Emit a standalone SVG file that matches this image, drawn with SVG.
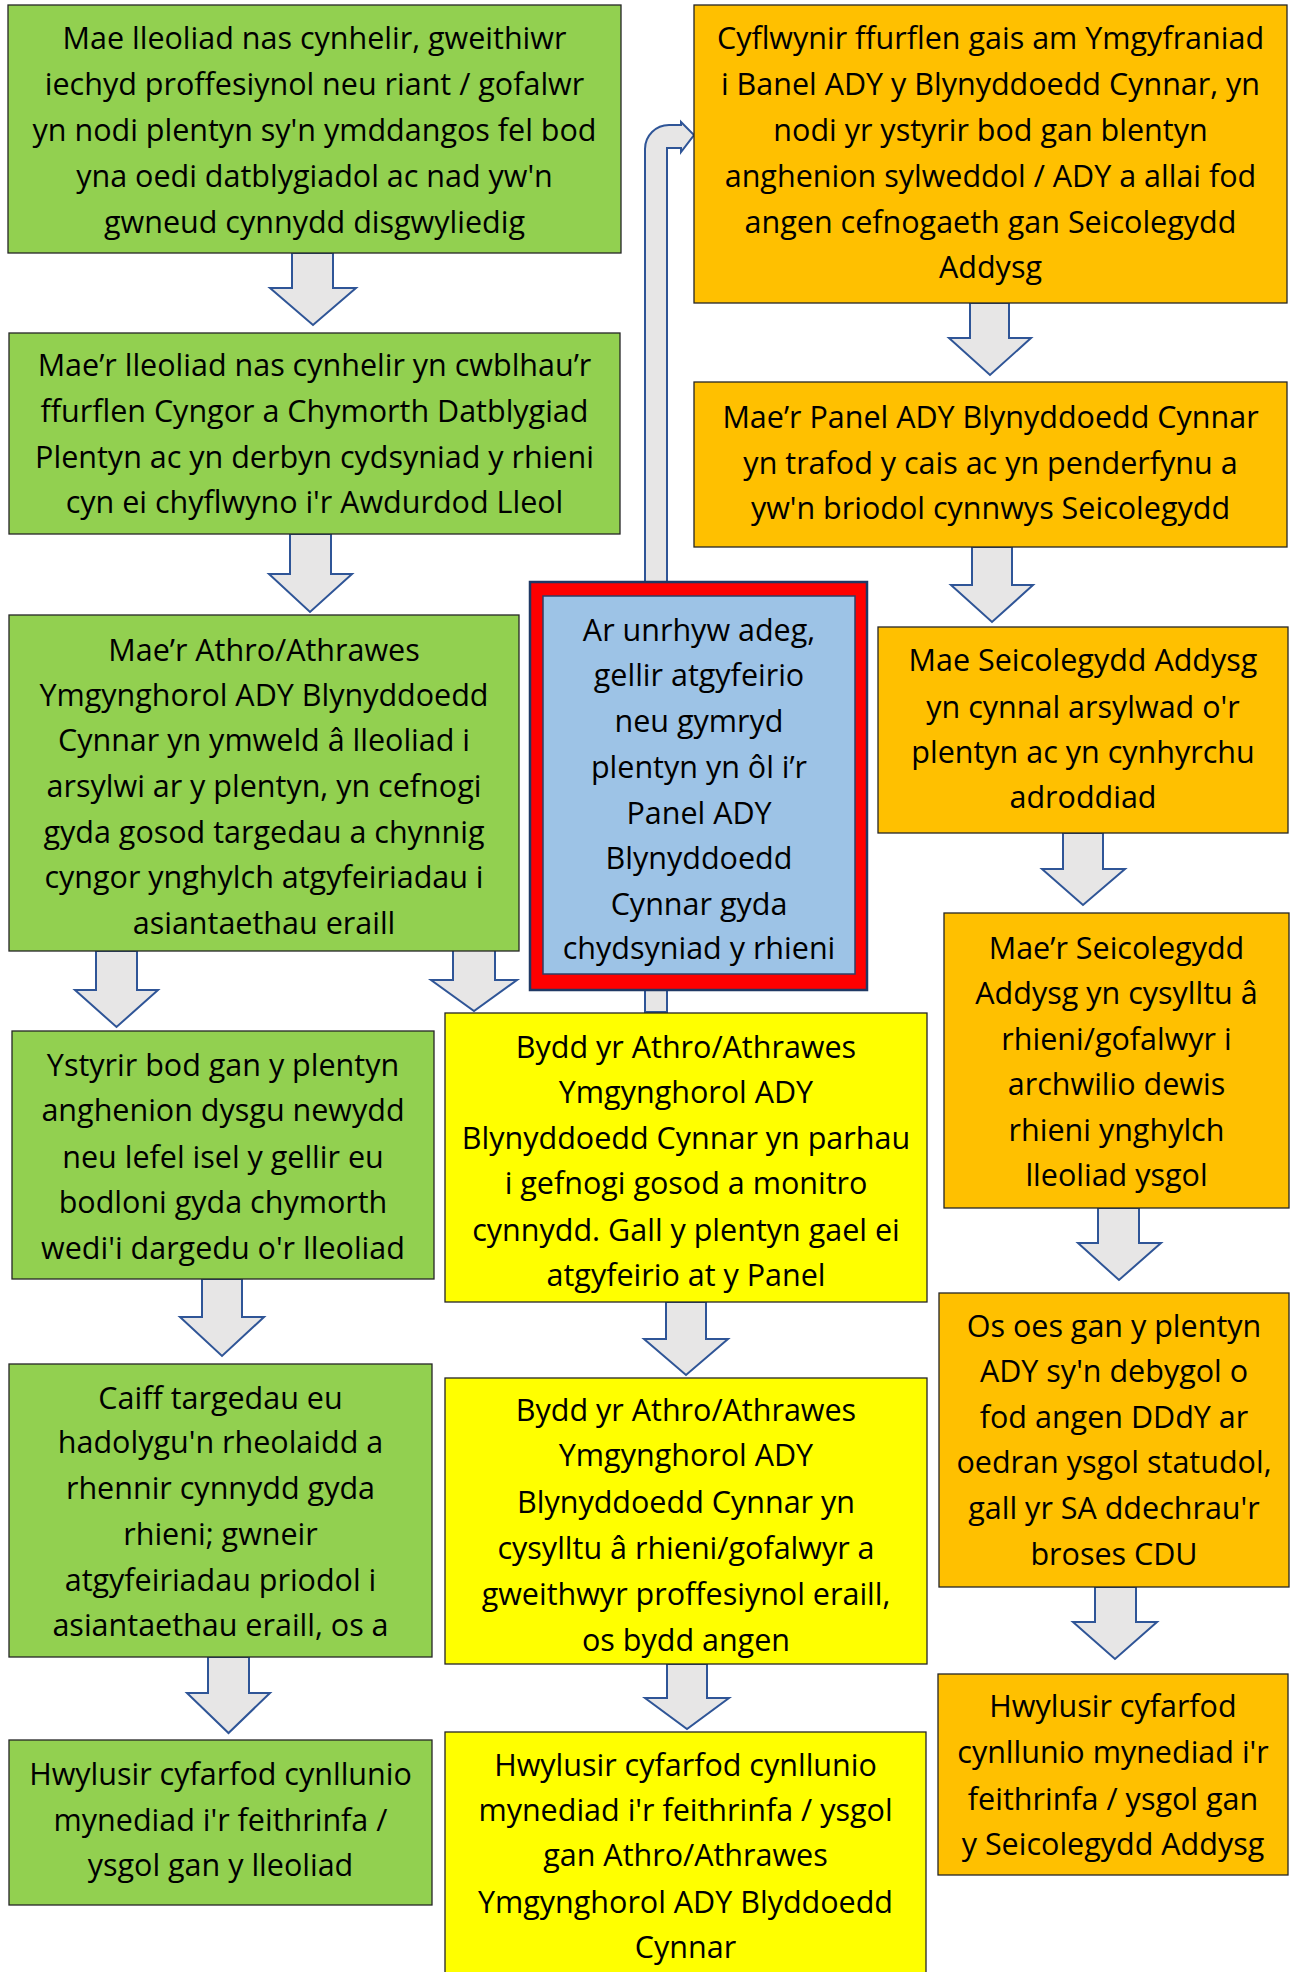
<svg xmlns="http://www.w3.org/2000/svg" width="1292" height="1972" viewBox="0 0 1292 1972">
<style>
.box{stroke:#262626;stroke-width:1.3}
.g{fill:#92D050}.o{fill:#FFC000}.y{fill:#FFFF00}
.arr{fill:#E7E6E6;stroke:#2F5597;stroke-width:2;stroke-linejoin:miter}
text{font-family:"Open Sans",Lato,sans-serif;font-size:30.5px;fill:#000;text-anchor:middle}
</style>
<rect width="1292" height="1972" fill="#fff"/>
<g id="connectors">
<path class="arr" d="M645,1012 L645,149 A24,24 0 0 1 669,125 L681,125 L681,122 L694,135 L681,152 L681,148 L667,148 L667,1012 Z"/>
<path class="arr" d="M292,253 L333,253 L333,288 L356,288 L313,325 L270,288 L292,288 Z"/>
<path class="arr" d="M290,534 L331,534 L331,574 L352,574 L310,612 L269,574 L290,574 Z"/>
<path class="arr" d="M96,951 L137,951 L137,990 L158,990 L116.5,1027 L75,990 L96,990 Z"/>
<path class="arr" d="M453,950 L495,950 L495,980 L517,980 L474,1011 L431,980 L453,980 Z"/>
<path class="arr" d="M202,1279 L242,1279 L242,1317 L264,1317 L222,1356 L180,1317 L202,1317 Z"/>
<path class="arr" d="M208,1657 L249,1657 L249,1693 L270,1693 L228.5,1733 L187,1693 L208,1693 Z"/>
<path class="arr" d="M666,1302 L706,1302 L706,1339 L728,1339 L686,1375 L644,1339 L666,1339 Z"/>
<path class="arr" d="M667,1664 L707,1664 L707,1698 L729,1698 L687,1729 L645,1698 L667,1698 Z"/>
<path class="arr" d="M970,303 L1009,303 L1009,338 L1031,338 L990,375 L949,338 L970,338 Z"/>
<path class="arr" d="M972,547 L1012,547 L1012,585 L1033,585 L992,622 L951,585 L972,585 Z"/>
<path class="arr" d="M1063,833 L1103,833 L1103,869 L1125,869 L1083,905 L1042,869 L1063,869 Z"/>
<path class="arr" d="M1098,1208 L1139,1208 L1139,1243 L1161,1243 L1119,1280 L1078,1243 L1098,1243 Z"/>
<path class="arr" d="M1095,1587 L1136,1587 L1136,1622 L1157,1622 L1115,1659 L1073,1622 L1095,1622 Z"/>
</g>
<g id="n-green-a">
<rect class="box g" x="8" y="5" width="613" height="248"/>
<text x="314.5" y="49">Mae lleoliad nas cynhelir, gweithiwr</text>
<text x="314.5" y="95">iechyd proffesiynol neu riant / gofalwr</text>
<text x="314.5" y="141">yn nodi plentyn sy'n ymddangos fel bod</text>
<text x="314.5" y="187">yna oedi datblygiadol ac nad yw'n</text>
<text x="314.5" y="233">gwneud cynnydd disgwyliedig</text>
</g>
<g id="n-orange-a">
<rect class="box o" x="694" y="5" width="593" height="298"/>
<text x="990.5" y="49">Cyflwynir ffurflen gais am Ymgyfraniad</text>
<text x="990.5" y="95">i Banel ADY y Blynyddoedd Cynnar, yn</text>
<text x="990.5" y="141">nodi yr ystyrir bod gan blentyn</text>
<text x="990.5" y="187">anghenion sylweddol / ADY a allai fod</text>
<text x="990.5" y="233">angen cefnogaeth gan Seicolegydd</text>
<text x="990.5" y="278">Addysg</text>
</g>
<g id="n-green-b">
<rect class="box g" x="9" y="333" width="611" height="201"/>
<text x="314.5" y="376">Mae’r lleoliad nas cynhelir yn cwblhau’r</text>
<text x="314.5" y="422">ffurflen Cyngor a Chymorth Datblygiad</text>
<text x="314.5" y="468">Plentyn ac yn derbyn cydsyniad y rhieni</text>
<text x="314.5" y="513">cyn ei chyflwyno i'r Awdurdod Lleol</text>
</g>
<g id="n-orange-b">
<rect class="box o" x="694" y="382" width="593" height="165"/>
<text x="990.5" y="428">Mae’r Panel ADY Blynyddoedd Cynnar</text>
<text x="990.5" y="474">yn trafod y cais ac yn penderfynu a</text>
<text x="990.5" y="519">yw'n briodol cynnwys Seicolegydd</text>
</g>
<g id="n-green-c">
<rect class="box g" x="9" y="615" width="510" height="336"/>
<text x="264" y="661">Mae’r Athro/Athrawes</text>
<text x="264" y="706">Ymgynghorol ADY Blynyddoedd</text>
<text x="264" y="751">Cynnar yn ymweld â lleoliad i</text>
<text x="264" y="797">arsylwi ar y plentyn, yn cefnogi</text>
<text x="264" y="843">gyda gosod targedau a chynnig</text>
<text x="264" y="888">cyngor ynghylch atgyfeiriadau i</text>
<text x="264" y="934">asiantaethau eraill</text>
</g>
<g id="n-referral">
<rect x="530" y="582" width="337" height="408" fill="#FF0000" stroke="#1F3864" stroke-width="2.5"/>
<rect x="543" y="596" width="312" height="378" fill="#9DC3E6" stroke="#2E3F66" stroke-width="1.5"/>
<text x="699" y="641">Ar unrhyw adeg,</text>
<text x="699" y="686">gellir atgyfeirio</text>
<text x="699" y="732">neu gymryd</text>
<text x="699" y="778">plentyn yn ôl i’r</text>
<text x="699" y="824">Panel ADY</text>
<text x="699" y="869">Blynyddoedd</text>
<text x="699" y="915">Cynnar gyda</text>
<text x="699" y="959">chydsyniad y rhieni</text>
</g>
<g id="n-orange-c">
<rect class="box o" x="878" y="627" width="410" height="206"/>
<text x="1083" y="671">Mae Seicolegydd Addysg</text>
<text x="1083" y="718">yn cynnal arsylwad o'r</text>
<text x="1083" y="763">plentyn ac yn cynhyrchu</text>
<text x="1083" y="808">adroddiad</text>
</g>
<g id="n-green-d">
<rect class="box g" x="12" y="1031" width="422" height="248"/>
<text x="223" y="1076">Ystyrir bod gan y plentyn</text>
<text x="223" y="1121">anghenion dysgu newydd</text>
<text x="223" y="1168">neu lefel isel y gellir eu</text>
<text x="223" y="1213">bodloni gyda chymorth</text>
<text x="223" y="1259">wedi'i dargedu o'r lleoliad</text>
</g>
<g id="n-yellow-a">
<rect class="box y" x="445" y="1013" width="482" height="289"/>
<text x="686" y="1058">Bydd yr Athro/Athrawes</text>
<text x="686" y="1103">Ymgynghorol ADY</text>
<text x="686" y="1149">Blynyddoedd Cynnar yn parhau</text>
<text x="686" y="1194">i gefnogi gosod a monitro</text>
<text x="686" y="1241">cynnydd. Gall y plentyn gael ei</text>
<text x="686" y="1286">atgyfeirio at y Panel</text>
</g>
<g id="n-orange-d">
<rect class="box o" x="944" y="913" width="345" height="295"/>
<text x="1116.5" y="959">Mae’r Seicolegydd</text>
<text x="1116.5" y="1004">Addysg yn cysylltu â</text>
<text x="1116.5" y="1050">rhieni/gofalwyr i</text>
<text x="1116.5" y="1095">archwilio dewis</text>
<text x="1116.5" y="1141">rhieni ynghylch</text>
<text x="1116.5" y="1186">lleoliad ysgol</text>
</g>
<g id="n-green-e">
<rect class="box g" x="9" y="1364" width="423" height="293"/>
<text x="220.5" y="1409">Caiff targedau eu</text>
<text x="220.5" y="1453">hadolygu'n rheolaidd a</text>
<text x="220.5" y="1499">rhennir cynnydd gyda</text>
<text x="220.5" y="1545">rhieni; gwneir</text>
<text x="220.5" y="1591">atgyfeiriadau priodol i</text>
<text x="220.5" y="1636">asiantaethau eraill, os a</text>
</g>
<g id="n-yellow-b">
<rect class="box y" x="445" y="1378" width="482" height="286"/>
<text x="686" y="1421">Bydd yr Athro/Athrawes</text>
<text x="686" y="1466">Ymgynghorol ADY</text>
<text x="686" y="1513">Blynyddoedd Cynnar yn</text>
<text x="686" y="1559">cysylltu â rhieni/gofalwyr a</text>
<text x="686" y="1605">gweithwyr proffesiynol eraill,</text>
<text x="686" y="1651">os bydd angen</text>
</g>
<g id="n-orange-e">
<rect class="box o" x="939" y="1293" width="350" height="294"/>
<text x="1114" y="1337">Os oes gan y plentyn</text>
<text x="1114" y="1382">ADY sy'n debygol o</text>
<text x="1114" y="1428">fod angen DDdY ar</text>
<text x="1114" y="1473">oedran ysgol statudol,</text>
<text x="1114" y="1519">gall yr SA ddechrau'r</text>
<text x="1114" y="1565">broses CDU</text>
</g>
<g id="n-green-f">
<rect class="box g" x="9" y="1740" width="423" height="165"/>
<text x="220.5" y="1785">Hwylusir cyfarfod cynllunio</text>
<text x="220.5" y="1831">mynediad i'r feithrinfa /</text>
<text x="220.5" y="1876">ysgol gan y lleoliad</text>
</g>
<g id="n-yellow-c">
<rect class="box y" x="445" y="1732" width="481" height="250"/>
<text x="685.5" y="1776">Hwylusir cyfarfod cynllunio</text>
<text x="685.5" y="1821">mynediad i'r feithrinfa / ysgol</text>
<text x="685.5" y="1866">gan Athro/Athrawes</text>
<text x="685.5" y="1913">Ymgynghorol ADY Blyddoedd</text>
<text x="685.5" y="1958">Cynnar</text>
</g>
<g id="n-orange-f">
<rect class="box o" x="938" y="1674" width="350" height="201"/>
<text x="1113" y="1717">Hwylusir cyfarfod</text>
<text x="1113" y="1763">cynllunio mynediad i'r</text>
<text x="1113" y="1810">feithrinfa / ysgol gan</text>
<text x="1113" y="1855">y Seicolegydd Addysg</text>
</g>
</svg>
